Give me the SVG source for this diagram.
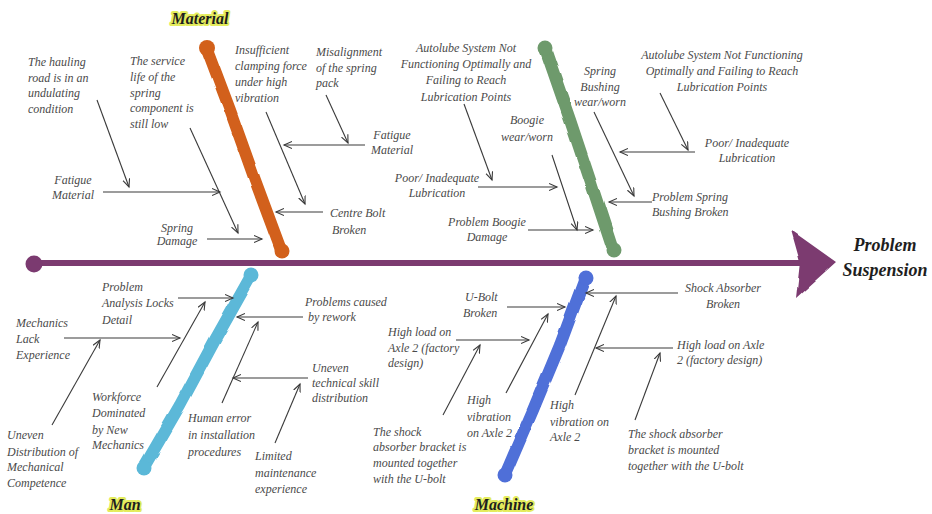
<svg xmlns="http://www.w3.org/2000/svg" width="932" height="514" viewBox="0 0 932 514">
<style>
.t{font-family:"Liberation Serif","Tinos","DejaVu Serif",serif;font-style:italic;font-size:12px;fill:#4a4a4a}
.m{text-anchor:middle}
.h{font-family:"Liberation Serif","Tinos","DejaVu Serif",serif;font-style:italic;font-weight:bold;font-size:16px;fill:#1e1e1e;stroke:#e4ec5c;stroke-width:4;stroke-linejoin:round;paint-order:stroke;text-anchor:middle}
.p{font-family:"Liberation Serif","Tinos","DejaVu Serif",serif;font-style:italic;font-weight:bold;font-size:18px;fill:#1e1e1e;text-anchor:middle}
.a{stroke:#3a3a3a;stroke-width:1.1;fill:none;marker-end:url(#ah)}
.bone{fill:none;stroke-linecap:round;stroke-width:11;filter:url(#rough)}
</style>
<defs>
<marker id="ah" markerUnits="userSpaceOnUse" markerWidth="10" markerHeight="10" refX="8" refY="4" orient="auto">
<path d="M0,0.5 L8,4 L0,7.5" fill="none" stroke="#3a3a3a" stroke-width="1.1"/>
</marker>
<filter id="rough" x="-20%" y="-20%" width="140%" height="140%">
<feTurbulence type="fractalNoise" baseFrequency="0.04" numOctaves="2" seed="3"/>
<feDisplacementMap in="SourceGraphic" scale="3" xChannelSelector="R" yChannelSelector="G"/>
</filter>
</defs>

<g id="spine">
<path class="bone" d="M34,264 L200,265 L420,264 L600,262 L800,261" stroke="#7b3a70" style="stroke-width:14"/>
<circle cx="34" cy="264" r="8.5" fill="#7b3a70"/>
<path d="M791,230 L836,262 L796,298 L800,262 Z" fill="#7b3a70" filter="url(#rough)"/>
</g>

<g id="bone-material">
<path class="bone" d="M207,49 L230,110 L255,180 L281,250" stroke="#d2601a" style="stroke-width:12"/>
<circle cx="207" cy="48" r="8" fill="#d2601a"/>
<circle cx="282" cy="251" r="7.5" fill="#d2601a"/>
</g>
<g id="bone-method">
<path class="bone" d="M545,48 L570,120 L590,180 L613,250" stroke="#6e9a6c" style="stroke-width:12"/>
<circle cx="545" cy="48" r="7.5" fill="#6e9a6c"/>
<circle cx="614" cy="250" r="7.5" fill="#6e9a6c"/>
</g>
<g id="bone-man">
<path class="bone" d="M251,276 L215,340 L180,405 L144,467" stroke="#5bb8d8" style="stroke-width:12"/>
<circle cx="251" cy="275" r="7.5" fill="#5bb8d8"/>
<circle cx="144" cy="468" r="7.5" fill="#5bb8d8"/>
</g>
<g id="bone-machine">
<path class="bone" d="M585,278 L560,345 L533,410 L505,475" stroke="#4f6fd8" style="stroke-width:12"/>
<circle cx="586" cy="278" r="7.5" fill="#4f6fd8"/>
<circle cx="505" cy="475" r="7.5" fill="#4f6fd8"/>
</g>

<g id="label-material"><text class="h" x="200" y="24">Material</text></g>
<g id="label-man"><text class="h" x="125" y="510">Man</text></g>
<g id="label-machine"><text class="h" x="504" y="510">Machine</text></g>
<g id="problem"><text class="p" x="885" y="251">Problem</text><text class="p" x="885" y="276">Suspension</text></g>

<g id="connectors">
<path class="a" d="M97,100 L129,187"/>
<path class="a" d="M190,128 L238,233"/>
<path class="a" d="M103,192 L220,192"/>
<path class="a" d="M207,239 L262,239"/>
<path class="a" d="M266,112 L305,204"/>
<path class="a" d="M326,95 L348,143"/>
<path class="a" d="M365,145 L284,145"/>
<path class="a" d="M323,212 L276,212"/>
<path class="a" d="M464,104 L492,180"/>
<path class="a" d="M552,155 L577,230"/>
<path class="a" d="M478,187 L557,187"/>
<path class="a" d="M528,230 L593,230"/>
<path class="a" d="M594,112 L634,196"/>
<path class="a" d="M660,93 L688,150"/>
<path class="a" d="M695,152 L620,152"/>
<path class="a" d="M652,202 L609,202"/>
<path class="a" d="M178,298 L233,298"/>
<path class="a" d="M64,338 L180,338"/>
<path class="a" d="M52,425 L100,340"/>
<path class="a" d="M157,387 L205,302"/>
<path class="a" d="M303,317 L237,317"/>
<path class="a" d="M308,378 L233,378"/>
<path class="a" d="M222,403 L258,322"/>
<path class="a" d="M275,443 L300,384"/>
<path class="a" d="M507,307 L565,307"/>
<path class="a" d="M456,340 L529,340"/>
<path class="a" d="M443,415 L480,345"/>
<path class="a" d="M506,393 L548,314"/>
<path class="a" d="M678,293 L586,293"/>
<path class="a" d="M575,395 L616,296"/>
<path class="a" d="M673,348 L596,348"/>
<path class="a" d="M635,420 L660,353"/>
</g>

<g id="n1"><text class="t" x="28" y="66">The hauling</text><text class="t" x="28" y="82">road is in an</text><text class="t" x="28" y="97">undulating</text><text class="t" x="28" y="113">condition</text></g>
<g id="n2"><text class="t" x="130" y="65">The service</text><text class="t" x="130" y="81">life of the</text><text class="t" x="130" y="97">spring</text><text class="t" x="130" y="112">component is</text><text class="t" x="130" y="128">still low</text></g>
<g id="n3"><text class="t m" x="73" y="184">Fatigue</text><text class="t m" x="73" y="199">Material</text></g>
<g id="n4"><text class="t m" x="177" y="232">Spring</text><text class="t m" x="177" y="245">Damage</text></g>
<g id="n5"><text class="t" x="235" y="54">Insufficient</text><text class="t" x="235" y="70">clamping force</text><text class="t" x="235" y="86">under high</text><text class="t" x="235" y="102">vibration</text></g>
<g id="n6"><text class="t" x="316" y="56">Misalignment</text><text class="t" x="316" y="72">of the spring</text><text class="t" x="316" y="87">pack</text></g>
<g id="n7"><text class="t m" x="392" y="139">Fatigue</text><text class="t m" x="392" y="154">Material</text></g>
<g id="n8"><text class="t" x="330" y="217">Centre Bolt</text><text class="t" x="332" y="234">Broken</text></g>
<g id="n9"><text class="t m" x="466" y="52">Autolube System Not</text><text class="t m" x="466" y="68">Functioning Optimally and</text><text class="t m" x="466" y="84">Failing to Reach</text><text class="t m" x="466" y="101">Lubrication Points</text></g>
<g id="n10"><text class="t m" x="527" y="124">Boogie</text><text class="t m" x="527" y="141">wear/worn</text></g>
<g id="n11"><text class="t m" x="437" y="182">Poor/ Inadequate</text><text class="t m" x="437" y="197">Lubrication</text></g>
<g id="n12"><text class="t m" x="487" y="226">Problem Boogie</text><text class="t m" x="487" y="241">Damage</text></g>
<g id="n13"><text class="t m" x="600" y="75">Spring</text><text class="t m" x="600" y="91">Bushing</text><text class="t m" x="600" y="106">wear/worn</text></g>
<g id="n14"><text class="t m" x="722" y="59">Autolube System Not Functioning</text><text class="t m" x="722" y="75">Optimally and Failing to Reach</text><text class="t m" x="722" y="91">Lubrication Points</text></g>
<g id="n15"><text class="t m" x="747" y="147">Poor/ Inadequate</text><text class="t m" x="747" y="162">Lubrication</text></g>
<g id="n16"><text class="t" x="652" y="201">Problem Spring</text><text class="t" x="652" y="216">Bushing Broken</text></g>
<g id="n17"><text class="t" x="102" y="291">Problem</text><text class="t" x="102" y="307">Analysis Locks</text><text class="t" x="102" y="324">Detail</text></g>
<g id="n18"><text class="t" x="16" y="327">Mechanics</text><text class="t" x="16" y="343">Lack</text><text class="t" x="16" y="359">Experience</text></g>
<g id="n19"><text class="t" x="7" y="439">Uneven</text><text class="t" x="7" y="456">Distribution of</text><text class="t" x="7" y="471">Mechanical</text><text class="t" x="7" y="487">Competence</text></g>
<g id="n20"><text class="t" x="92" y="401">Workforce</text><text class="t" x="92" y="417">Dominated</text><text class="t" x="92" y="434">by New</text><text class="t" x="92" y="449">Mechanics</text></g>
<g id="n21"><text class="t" x="305" y="306">Problems caused</text><text class="t" x="308" y="321">by rework</text></g>
<g id="n22"><text class="t" x="312" y="372">Uneven</text><text class="t" x="312" y="387">technical skill</text><text class="t" x="312" y="402">distribution</text></g>
<g id="n23"><text class="t" x="188" y="422">Human error</text><text class="t" x="188" y="439">in installation</text><text class="t" x="188" y="456">procedures</text></g>
<g id="n24"><text class="t" x="255" y="460">Limited</text><text class="t" x="255" y="477">maintenance</text><text class="t" x="255" y="493">experience</text></g>
<g id="n25"><text class="t" x="465" y="301">U-Bolt</text><text class="t" x="463" y="317">Broken</text></g>
<g id="n26"><text class="t" x="388" y="336">High load on</text><text class="t" x="388" y="352">Axle 2 (factory</text><text class="t" x="388" y="367">design)</text></g>
<g id="n27"><text class="t" x="373" y="436">The shock</text><text class="t" x="373" y="451">absorber bracket is</text><text class="t" x="373" y="467">mounted together</text><text class="t" x="373" y="483">with the U-bolt</text></g>
<g id="n28"><text class="t" x="467" y="404">High</text><text class="t" x="467" y="421">vibration</text><text class="t" x="467" y="437">on Axle 2</text></g>
<g id="n29"><text class="t m" x="723" y="292">Shock Absorber</text><text class="t m" x="723" y="308">Broken</text></g>
<g id="n30"><text class="t" x="550" y="409">High</text><text class="t" x="550" y="426">vibration on</text><text class="t" x="550" y="441">Axle 2</text></g>
<g id="n31"><text class="t" x="677" y="349">High load on Axle</text><text class="t" x="677" y="364">2 (factory design)</text></g>
<g id="n32"><text class="t" x="628" y="438">The shock absorber</text><text class="t" x="628" y="454">bracket is mounted</text><text class="t" x="628" y="470">together with the U-bolt</text></g>
</svg>
